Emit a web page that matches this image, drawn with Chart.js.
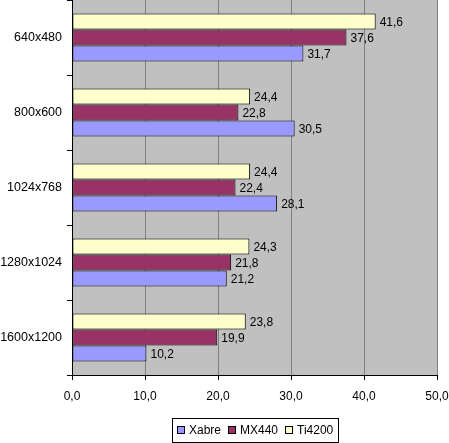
<html>
<head>
    <meta charset="UTF-8">
    <title>Resolution benchmark</title>
    <style>
        body { margin: 0; background: #fff; }
        #wrap { width: 449px; height: 443px; }
    </style>
</head>
<body>
    <div id="wrap"><canvas id="benchChart"></canvas></div>
    <script src="https://cdn.jsdelivr.net/npm/chart.js"></script>
    <script>
        const resolutions = ['640x480', '800x600', '1024x768', '1280x1024', '1600x1200'];
        const xabre = [31.7, 30.5, 28.1, 21.2, 10.2];
        const mx440 = [37.6, 22.8, 22.4, 21.8, 19.9];
        const ti4200 = [41.6, 24.4, 24.4, 24.3, 23.8];
        const xTicks = [0, 10, 20, 30, 40, 50];

        const fmt = v => v.toFixed(1).replace('.', ',');
        const family = 'Liberation Sans, Arial, sans-serif';

        // gray plot area like the old spreadsheet charts
        const plotBg = {
            id: 'plotBg',
            beforeDraw(chart) {
                const a = chart.chartArea, c = chart.ctx;
                c.save();
                c.fillStyle = '#c0c0c0';
                c.fillRect(a.left, a.top, a.right - a.left, a.bottom - a.top);
                c.restore();
            }
        };

        // value labels at the end of each bar
        const valueLabels = {
            id: 'valueLabels',
            afterDatasetsDraw(chart) {
                const c = chart.ctx;
                c.save();
                c.font = '12px ' + family;
                c.fillStyle = '#000';
                c.textBaseline = 'middle';
                chart.data.datasets.forEach((ds, i) => {
                    chart.getDatasetMeta(i).data.forEach((bar, j) => {
                        c.fillText(fmt(ds.data[j]), bar.x + 4, bar.y + 1);
                    });
                });
                c.restore();
            }
        };

        // boxed legend under the plot, Xabre first
        const boxLegend = {
            id: 'boxLegend',
            afterDraw(chart) {
                const c = chart.ctx, a = chart.chartArea;
                const items = chart.data.datasets.slice().reverse();
                c.save();
                c.font = '12px ' + family;
                const widths = items.map(d => 8 + 4 + c.measureText(d.label).width);
                const inner = widths.reduce((s, w) => s + w, 0) + 7 * (items.length - 1);
                const boxW = Math.round(inner + 10);
                const left = Math.round((a.left + a.right) / 2 - boxW / 2);
                const top = 418, h = 24, mid = top + h / 2;
                c.strokeStyle = '#000';
                c.lineWidth = 1;
                c.strokeRect(left + 0.5, top + 0.5, boxW, h);
                let x = left + 5;
                items.forEach((d, i) => {
                    c.fillStyle = d.backgroundColor;
                    c.fillRect(x, mid - 4, 8, 8);
                    c.strokeRect(x + 0.5, mid - 3.5, 7, 7);
                    c.fillStyle = '#000';
                    c.textBaseline = 'middle';
                    c.fillText(d.label, x + 12, mid + 1);
                    x += widths[i] + 7;
                });
                c.restore();
            }
        };

        const mkSet = (label, data, color) => ({
            label: label,
            data: data,
            backgroundColor: color,
            borderColor: '#000',
            borderWidth: 1,
            borderSkipped: false,
            categoryPercentage: 0.64,
            barPercentage: 1.0
        });

        new Chart(document.getElementById('benchChart'), {
            type: 'bar',
            data: {
                labels: resolutions,
                datasets: [
                    mkSet('Ti4200', ti4200, '#ffffcc'),
                    mkSet('MX440', mx440, '#993366'),
                    mkSet('Xabre', xabre, '#9999ff')
                ]
            },
            options: {
                indexAxis: 'y',
                responsive: true,
                maintainAspectRatio: false,
                animation: false,
                layout: { padding: { top: 0, right: 12, bottom: 28, left: 0 } },
                plugins: {
                    legend: { display: false },
                    tooltip: { enabled: false }
                },
                scales: {
                    x: {
                        min: 0,
                        max: 50,
                        afterBuildTicks: s => { s.ticks = xTicks.map(v => ({ value: v })); },
                        afterFit: s => { s.height = 40; s.paddingLeft = 0; s.paddingRight = 0; },
                        ticks: { font: { family: family, size: 12 }, color: '#000', padding: 9, callback: v => fmt(v) },
                        grid: { color: '#808080', tickColor: '#000', tickLength: 5 },
                        border: { color: '#000' }
                    },
                    y: {
                        afterFit: s => { s.width = 72; s.paddingTop = 0; s.paddingBottom = 0; },
                        ticks: { font: { family: family, size: 12.5 }, color: '#000', padding: 5 },
                        grid: { offset: true, drawOnChartArea: false, tickColor: '#000', tickLength: 5 },
                        border: { color: '#000' }
                    }
                }
            },
            plugins: [plotBg, valueLabels, boxLegend]
        });
    </script>
</body>
</html>
